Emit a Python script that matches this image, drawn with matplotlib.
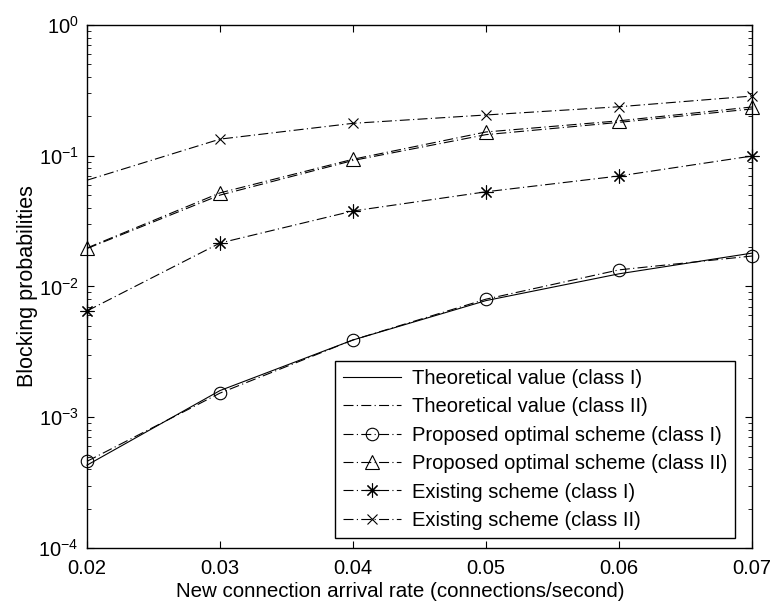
import numpy as np
import matplotlib
matplotlib.use("Agg")
from matplotlib import pyplot as plt

plt.rcParams['font.family'] = ['Liberation Sans', 'DejaVu Sans']
plt.rcParams['mathtext.fontset'] = 'custom'
plt.rcParams['mathtext.rm'] = 'Liberation Sans'

# arrival rate (connections/second)
rate = [0.02, 0.03, 0.04, 0.05, 0.06, 0.07]

# blocking probabilities
theory_c1 = [4.3e-4, 1.6e-3, 3.9e-3, 7.8e-3, 1.25e-2, 1.8e-2]
theory_c2 = [1.95e-2, 5.0e-2, 9.2e-2, 0.145, 0.18, 0.228]
proposed_c1 = [4.6e-4, 1.53e-3, 3.9e-3, 8.0e-3, 1.34e-2, 1.71e-2]
proposed_c2 = [1.97e-2, 5.2e-2, 9.4e-2, 0.152, 0.185, 0.236]
existing_c1 = [6.5e-3, 2.15e-2, 3.78e-2, 5.3e-2, 7.0e-2, 9.95e-2]
existing_c2 = [6.5e-2, 0.134, 0.177, 0.205, 0.237, 0.286]

labels = ["Theoretical value (class I)", "Theoretical value (class II)",
          "Proposed optimal scheme (class I)", "Proposed optimal scheme (class II)",
          "Existing scheme (class I)", "Existing scheme (class II)"]

fig = plt.figure(figsize=(7.74, 6.08), dpi=100)
ax = fig.add_axes([0.1124, 0.0987, 0.8592, 0.8602])

dd = (0, (9, 3, 1, 3))
lw = 0.8
mk = dict(color='k', lw=lw, mfc='none', mec='k', mew=0.8, clip_on=False)

ax.plot(rate, theory_c1, '-', label=labels[0], **mk)
ax.plot(rate, theory_c2, linestyle=dd, label=labels[1], **mk)
ax.plot(rate, proposed_c1, linestyle=dd, marker='o', ms=9, label=labels[2], **mk)
ax.plot(rate, proposed_c2, linestyle=dd, marker='^', ms=10, label=labels[3], **mk)
ax.plot(rate, existing_c1, linestyle=dd, marker=(8, 2, 0), ms=10, label=labels[4], **mk)
# no marker drawn at the first point in the original
ax.plot(rate, existing_c2, linestyle=dd, marker='x', ms=7, markevery=[1, 2, 3, 4, 5],
        label=labels[5], **mk)

ax.set_yscale('log')
ax.set_xlim(0.02, 0.07)
ax.set_ylim(1e-4, 1)
ax.set_xticks(rate)
ax.set_xticklabels(["%.2f" % r for r in rate])
ax.tick_params(which='both', direction='in', top=True, right=True, labelsize=14.5)
ax.tick_params(which='major', length=5)
ax.tick_params(axis='x', which='major', pad=8)
ax.tick_params(axis='y', which='major', pad=6)
ax.tick_params(which='minor', length=3)
for s in ax.spines.values():
    s.set_linewidth(1.0)

ax.set_xlabel("New connection arrival rate (connections/second)", fontsize=14.75)
ax.xaxis.set_label_coords(0.471, -0.0937)
ax.xaxis.label.set_va('baseline')
ax.set_ylabel("Blocking probabilities", fontsize=15.5, labelpad=0)

leg = ax.legend(loc='lower right', bbox_to_anchor=(0.9744, 0.019), fontsize=14.5,
                frameon=True, fancybox=False, edgecolor='k', framealpha=1,
                borderaxespad=0, handlelength=2.9, labelspacing=0.47,
                borderpad=0.4, handletextpad=0.5)
leg.get_frame().set_linewidth(1.0)

fig.savefig("out.png", dpi=100)
